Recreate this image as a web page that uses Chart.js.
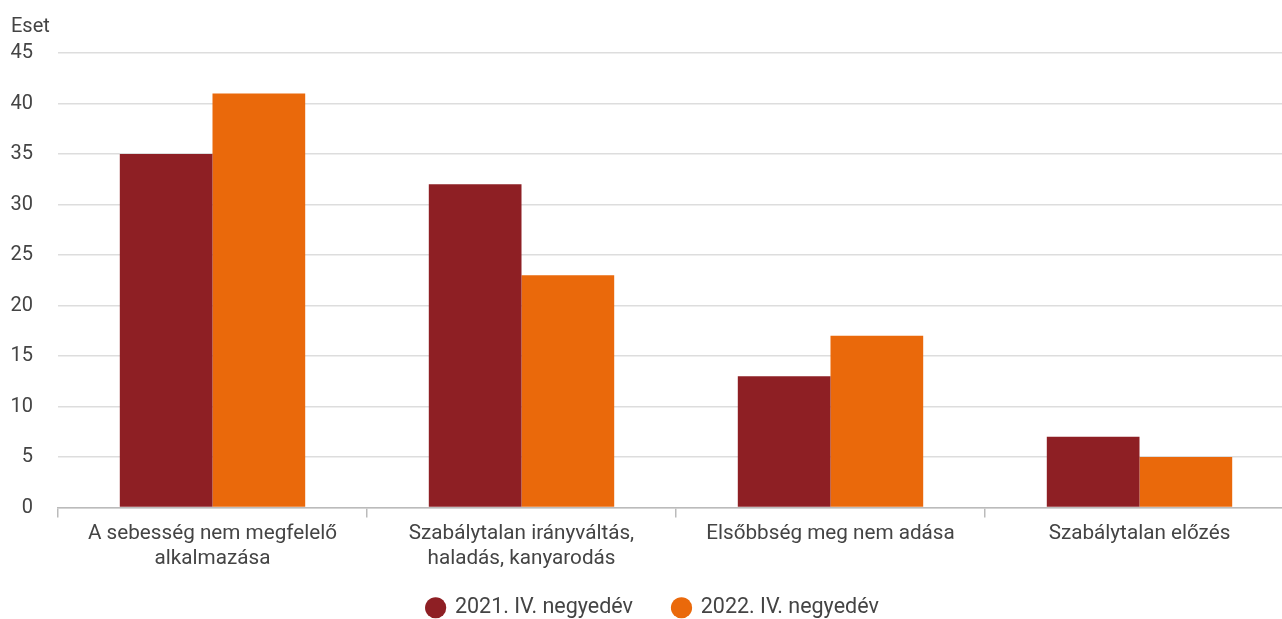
<!DOCTYPE html>
<html>
<head>
<meta charset="utf-8">
<script src="https://cdn.jsdelivr.net/npm/chart.js@4"></script>
<style>
html,body{margin:0;padding:0;background:#fff;overflow:hidden;}
#wrap{position:relative;width:1294px;height:660px;}
</style>
</head>
<body>
<div id="wrap"><canvas id="c"></canvas></div>
<script>
const categories = [
  ["A sebesség nem megfelelő", "alkalmazása"],
  ["Szabálytalan irányváltás,", "haladás, kanyarodás"],
  ["Elsőbbség meg nem adása"],
  ["Szabálytalan előzés"]
];
const seriesNames = ["2021. IV. negyedév", "2022. IV. negyedév"];
const values2021 = [35, 32, 13, 7];
const values2022 = [41, 23, 17, 5];
const yTicksMax = 45;
const yTicksStep = 5;
const yAxisTitle = "Eset";

const textColor = '#444';
const fontFamily = 'Roboto, "Open Sans", sans-serif';
const legendCenterY = 606;
const legendShiftX = 6;

const titlePlugin = {
  id: 'esetTitle',
  afterLayout(chart) {
    const lg = chart.legend;
    if (!lg) return;
    const pad = lg.options.labels.padding;
    const target = legendCenterY - pad - 9;
    const dy = lg.top - target;
    lg.top -= dy;
    lg.bottom -= dy;
    lg.left += legendShiftX;
    lg.right += legendShiftX;
  },
  afterDraw(chart) {
    const ctx = chart.ctx;
    ctx.save();
    ctx.font = '20px ' + fontFamily;
    ctx.fillStyle = textColor;
    ctx.textBaseline = 'alphabetic';
    ctx.textAlign = 'left';
    ctx.fillText(yAxisTitle, 11, 32);
    ctx.restore();
  }
};

new Chart(document.getElementById('c'), {
  type: 'bar',
  data: {
    labels: categories,
    datasets: [
      { label: seriesNames[0], data: values2021, backgroundColor: '#8E1F24' },
      { label: seriesNames[1], data: values2022, backgroundColor: '#EA690B' }
    ]
  },
  options: {
    responsive: true,
    maintainAspectRatio: false,
    animation: false,
    categoryPercentage: 0.6,
    barPercentage: 1.0,
    layout: { padding: { top: 53, right: 0, left: 0, bottom: 0 } },
    plugins: {
      tooltip: { enabled: false },
      legend: {
        position: 'bottom',
        labels: {
          usePointStyle: true,
          pointStyle: 'circle',
          boxHeight: 15,
          boxWidth: 17,
          color: textColor,
          font: { size: 21.5, family: fontFamily },
          padding: 40
        }
      }
    },
    scales: {
      x: {
        offset: true,
        afterFit(scale) { scale.height = 660 - 508 - 71; },
        grid: { drawOnChartArea: false, drawTicks: true, tickLength: 10, color: '#bbb', offset: true, lineWidth: 1.5 },
        border: { display: true, color: '#bbb', width: 1.5 },
        ticks: { color: textColor, font: { size: 20.7, family: fontFamily }, padding: 4, maxRotation: 0, autoSkip: false }
      },
      y: {
        min: 0,
        max: yTicksMax,
        afterFit(scale) { scale.width = 58; },
        grid: { drawTicks: false, color: '#ddd', lineWidth: 1.5 },
        border: { display: false },
        ticks: { stepSize: yTicksStep, color: textColor, font: { size: 20, family: fontFamily }, padding: 25 }
      }
    }
  },
  plugins: [titlePlugin]
});
</script>
</body>
</html>
